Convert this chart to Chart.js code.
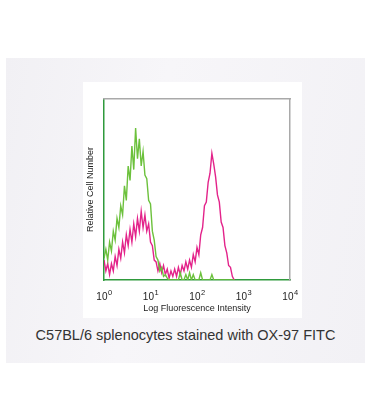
<!DOCTYPE html>
<html>
<head>
<meta charset="utf-8">
<script src="https://cdn.jsdelivr.net/npm/chart.js@4"></script>
<style>
  html, body { margin: 0; padding: 0; background: #fff; }
  body { width: 368px; height: 420px; position: relative; overflow: hidden; font-family: "Liberation Sans", Arial, sans-serif; }
  #panel {
    position: absolute; left: 6px; top: 58px; width: 359px; height: 305px;
    background: linear-gradient(100deg, #f1f0f4 0%, #f7f6f9 40%, #f2f1f5 100%);
  }
  #card { position: absolute; left: 83px; top: 82px; width: 219px; height: 236px; background: #fff; }
  #caption {
    position: absolute; left: 6px; width: 359px; top: 327px; text-align: center;
    font-size: 14.5px; color: #333;
  }
</style>
</head>
<body>
<div id="panel"></div>
<div id="card"><canvas id="histo" width="219" height="236"></canvas></div>
<div id="caption">C57BL/6 splenocytes stained with OX-97 FITC</div>
<script>
// channel positions in decades (log10 of intensity), 0.04 decade bins
const binStep = 0.04;
const tickBase = '10';
const tickExponents = ['0', '1', '2', '3', '4'];

// unstained / isotype (green)
const greenCounts = [
  12, 17, 11, 21, 16, 27, 22, 34, 29, 41,
  36, 52, 44, 63, 55, 74, 61, 84, 67, 78,
  63, 71, 58, 56, 44, 42, 27, 22, 13, 11,
  5, 7, 2, 3, 1, 0, 0, 0, 0, 0,
  0, 4, 0, 0, 3, 0, 4, 0, 3, 0,
  0, 0, 4, 0, 0, 0, 0, 0, 3, 0,
  0, 0, 0, 0, 0, 0, 0, 0, 0, 0,
  0
];

// OX-97 FITC (magenta)
const magentaCounts = [
  11, 5, 9, 3, 9, 5, 13, 8, 17, 12,
  21, 15, 25, 19, 28, 21, 31, 24, 34, 27,
  38, 29, 36, 27, 31, 21, 19, 11, 10, 5,
  9, 4, 8, 3, 6, 1, 5, 2, 6, 2,
  7, 3, 8, 5, 10, 6, 11, 7, 14, 10,
  18, 14, 25, 29, 41, 43, 54, 59, 70, 64,
  57, 47, 43, 32, 29, 19, 15, 8, 7, 2,
  0
];

function toPoints(counts) {
  return counts.map((v, i) => ({ x: +(i * binStep).toFixed(2), y: v }));
}

const hiddenAxis = {
  display: true,
  ticks: { display: false },
  grid: { display: false, drawTicks: false },
  border: { display: true, color: '#a9a9a9', width: 1.5 },
  afterFit: s => { s.width = 0; s.height = 0; }
};

// draws 10^n labels with a real superscript under each decade
const decadeLabels = {
  id: 'decadeLabels',
  afterDraw(chart) {
    const ctx = chart.ctx;
    const xs = chart.scales.x;
    const y = chart.chartArea.bottom + 17;
    ctx.save();
    ctx.fillStyle = '#222';
    ctx.textBaseline = 'middle';
    ctx.textAlign = 'left';
    tickExponents.forEach((exp, i) => {
      const px = xs.getPixelForValue(i);
      ctx.font = '10px "Liberation Sans"';
      const wb = ctx.measureText(tickBase).width;
      ctx.font = '7.5px "Liberation Sans"';
      const we = ctx.measureText(exp).width;
      const left = px - (wb + we) / 2;
      ctx.font = '10px "Liberation Sans"';
      ctx.fillText(tickBase, left, y);
      ctx.font = '7.5px "Liberation Sans"';
      ctx.fillText(exp, left + wb + 0.5, y - 4);
    });
    ctx.restore();
  }
};

new Chart(document.getElementById('histo').getContext('2d'), {
  type: 'line',
  data: {
    datasets: [
      {
        label: 'Control',
        data: toPoints(greenCounts),
        borderColor: '#6cc13c',
        borderWidth: 1.4,
        pointRadius: 0,
        tension: 0
      },
      {
        label: 'OX-97 FITC',
        data: toPoints(magentaCounts),
        borderColor: '#e3238a',
        borderWidth: 1.4,
        pointRadius: 0,
        tension: 0
      }
    ]
  },
  options: {
    responsive: false,
    animation: false,
    layout: { padding: { left: 2, right: 12, top: 17, bottom: 4 } },
    plugins: {
      legend: { display: false },
      tooltip: { enabled: false }
    },
    scales: {
      x: {
        type: 'linear',
        min: 0,
        max: 4,
        grid: { display: false, drawTicks: false },
        border: { color: '#2f9a3c', width: 1.5 },
        ticks: { stepSize: 1, callback: () => '' },
        title: {
          display: true,
          text: 'Log Fluorescence Intensity',
          color: '#222',
          font: { family: 'Liberation Sans', size: 9 },
          padding: 0
        },
        afterFit: s => { s.height = 34; }
      },
      y: {
        min: 0,
        max: 100,
        grid: { display: false, drawTicks: false },
        border: { color: '#2f9a3c', width: 1.5 },
        ticks: { display: false },
        title: {
          display: true,
          text: 'Relative Cell Number',
          color: '#222',
          font: { family: 'Liberation Sans', size: 9 },
          padding: 0
        },
        afterFit: s => { s.width = 19; }
      },
      xTop: Object.assign({ type: 'linear', position: 'top', min: 0, max: 4 }, hiddenAxis),
      yRight: Object.assign({ type: 'linear', position: 'right', min: 0, max: 100 }, hiddenAxis)
    }
  },
  plugins: [decadeLabels]
});
</script>
</body>
</html>
